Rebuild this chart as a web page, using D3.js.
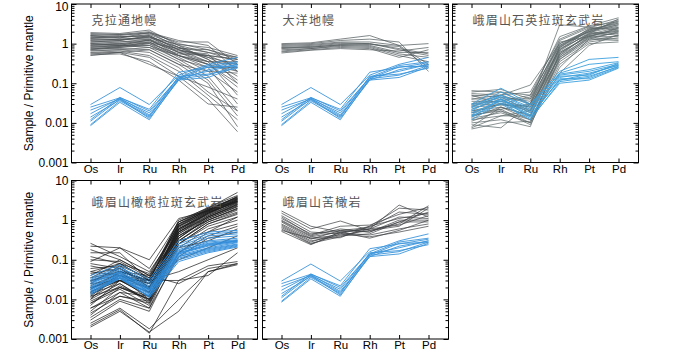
<!DOCTYPE html>
<html>
<head>
<meta charset="utf-8">
<script src="https://d3js.org/d3.v7.min.js"></script>
<style>
  body { margin: 0; background: #fff; }
  text { font-family: Arial, "Liberation Sans", sans-serif; }
</style>
</head>
<body>
<svg id="chart" width="700" height="352"></svg>
<script>
// element order on the x axis
var elements = ["Os", "Ir", "Ru", "Rh", "Pt", "Pd"];
var yTicks = [10, 1, 0.1, 0.01, 0.001];
var titles = ["克拉通地幔", "大洋地幔", "峨眉山石英拉斑玄武岩", "峨眉山橄榄拉斑玄武岩", "峨眉山苦橄岩"];

// blue reference lines (same set in panels 1, 2, 5)
var blueRef = [
  [0.029, 0.078, 0.029, 0.16, 0.30, 0.45],
  [0.025, 0.043, 0.022, 0.19, 0.25, 0.33],
  [0.021, 0.040, 0.018, 0.14, 0.20, 0.30],
  [0.017, 0.042, 0.016, 0.13, 0.16, 0.28],
  [0.014, 0.038, 0.015, 0.12, 0.14, 0.26],
  [0.011, 0.040, 0.013, 0.12, 0.22, 0.30],
  [0.0085, 0.033, 0.012, 0.13, 0.26, 0.27],
  [0.009, 0.036, 0.014, 0.15, 0.17, 0.24],
  [0.012, 0.044, 0.020, 0.14, 0.28, 0.35]
];

// 克拉通地幔
var cratonGrey = [
  [1.9,1.8,2.2,0.9,0.6,0.35],[1.8,1.7,2.0,1.0,0.7,0.4],[1.7,1.6,1.9,0.8,0.45,0.2],
  [1.6,1.7,1.8,1.1,1.1,0.3],[1.5,1.5,1.6,0.7,0.5,0.25],[1.45,1.4,1.7,0.9,0.4,0.12],
  [1.4,1.5,1.5,0.6,0.3,0.08],[1.3,1.3,1.4,0.8,0.6,0.45],[1.25,1.2,1.6,0.7,0.35,0.05],
  [1.2,1.3,1.3,0.5,0.25,0.03],[1.15,1.1,1.2,0.6,0.5,0.4],[1.1,1.2,1.5,0.8,0.4,0.15],
  [1.05,1.0,1.1,0.5,0.3,0.2],[1.0,1.1,1.3,0.7,0.45,0.3],[0.95,0.95,1.0,0.4,0.15,0.02],
  [0.9,1.0,1.2,0.6,0.35,0.35],[0.88,0.9,0.9,0.5,0.3,0.1],[0.85,0.85,1.1,0.45,0.2,0.06],
  [0.8,0.9,0.8,0.35,0.12,0.015],[0.78,0.8,1.0,0.55,0.5,0.4],[0.75,0.75,0.7,0.3,0.1,0.008],
  [0.7,0.8,0.9,0.4,0.25,0.25],[0.68,0.7,0.6,0.25,0.06,0.02],[0.65,0.7,0.8,0.5,0.35,0.3],
  [0.6,0.65,0.5,0.2,0.05,0.012],[0.58,0.6,0.7,0.3,0.2,0.18],[0.55,0.6,0.45,0.15,0.04,0.006],
  [0.52,0.55,0.35,0.12,0.03,0.025],[0.5,0.6,0.3,0.15,0.08,0.04],[1.35,1.25,1.45,0.95,0.8,0.5],
  [1.0,0.9,1.25,0.65,0.55,0.1],[1.6,1.4,1.9,1.2,0.9,0.2],[0.72,0.85,1.05,0.75,0.7,0.45]
];

// 大洋地幔
var oceanGrey = [
  [1.0,1.05,1.3,1.6,0.9,0.3],[0.95,1.0,1.2,1.3,1.1,0.2],[0.9,0.95,1.1,1.1,0.9,1.0],
  [0.85,0.9,1.05,1.0,0.75,0.55],[0.8,0.85,1.0,1.0,0.7,0.5],[0.75,0.8,0.95,0.9,0.6,0.6],
  [0.7,0.75,0.9,0.85,0.55,0.45],[0.65,0.75,0.85,0.8,0.5,0.35],[0.62,0.7,0.8,0.75,0.45,0.7],
  [0.58,0.68,0.75,0.7,0.65,0.8],[0.78,0.82,0.92,0.95,0.85,0.25]
];

// 峨眉山石英拉斑玄武岩
var quartzGrey = [
  [0.065,0.06,0.05,1.5,2.8,4.5],[0.06,0.07,0.04,1.2,2.5,4.0],[0.055,0.05,0.09,1.0,2.2,3.5],
  [0.05,0.045,0.035,0.9,2.0,3.0],[0.045,0.06,0.03,0.8,2.4,2.5],[0.04,0.04,0.04,0.7,1.8,2.0],
  [0.035,0.035,0.025,0.6,1.6,1.8],[0.03,0.05,0.03,1.1,1.5,1.5],[0.028,0.03,0.02,0.5,1.4,1.3],
  [0.025,0.028,0.028,0.45,1.3,1.2],[0.022,0.04,0.018,0.55,1.7,2.2],[0.02,0.025,0.015,0.4,1.2,1.6],
  [0.018,0.03,0.022,0.8,2.0,3.8],[0.016,0.02,0.012,0.35,1.1,1.4],[0.015,0.022,0.03,0.65,1.9,2.8],
  [0.013,0.018,0.01,0.3,1.0,1.1],[0.012,0.015,0.02,0.7,2.2,3.2],[0.011,0.02,0.009,0.25,1.3,2.0],
  [0.01,0.012,0.008,0.6,1.5,2.5],[0.009,0.0075,0.03,3.0,2.6,2.2],[0.008,0.025,0.012,0.18,0.9,1.7],
  [0.0075,0.015,0.015,0.5,1.8,4.2],[0.007,0.01,0.011,0.4,1.4,1.9],[0.03,0.035,0.05,0.9,2.3,3.3],
  [0.02,0.03,0.025,0.75,1.7,2.6],[0.04,0.05,0.06,1.3,2.7,3.6],[0.014,0.025,0.016,0.55,1.6,2.1],
  [0.026,0.045,0.02,0.85,2.1,3.0],[0.018,0.022,0.01,0.45,1.5,2.4],[0.05,0.03,0.045,1.0,2.0,1.6]
];
var quartzBlue = [
  [0.03,0.075,0.03,0.2,0.4,0.45],[0.028,0.05,0.025,0.18,0.3,0.35],[0.025,0.045,0.02,0.16,0.2,0.3],
  [0.022,0.04,0.018,0.14,0.18,0.28],[0.02,0.05,0.022,0.15,0.16,0.32],[0.018,0.035,0.015,0.12,0.15,0.26],
  [0.016,0.04,0.014,0.13,0.13,0.25],[0.015,0.03,0.012,0.11,0.14,0.27],[0.014,0.038,0.016,0.12,0.17,0.29],
  [0.024,0.06,0.028,0.17,0.22,0.33],[0.012,0.032,0.013,0.1,0.12,0.24]
];

// 峨眉山橄榄拉斑玄武岩
var oliveGrey = [
  [0.26,0.12,0.05,0.6,1.5,3.0],[0.22,0.2,0.06,0.9,1.8,3.5],[0.18,0.1,0.04,0.4,1.0,2.0],
  [0.15,0.15,0.03,0.3,0.5,0.8],[0.12,0.08,0.045,0.7,1.6,2.8],[0.1,0.09,0.035,0.5,1.2,2.5],
  [0.09,0.2,0.1,1.1,1.7,4.0],[0.08,0.06,0.025,0.2,0.3,0.6],[0.07,0.05,0.03,0.35,1.1,2.2],
  [0.06,0.07,0.02,0.25,0.8,1.5],[0.05,0.04,0.03,0.8,2.0,5.0],[0.045,0.06,0.02,0.6,1.4,3.2],
  [0.04,0.1,0.04,0.9,1.9,3.0],[0.035,0.05,0.015,0.5,1.3,2.6],[0.03,0.04,0.018,0.4,1.0,2.0],
  [0.028,0.06,0.025,0.7,1.7,3.5],[0.025,0.03,0.012,0.3,0.9,1.8],[0.022,0.045,0.02,0.55,1.5,3.0],
  [0.02,0.035,0.01,0.25,0.7,1.2],[0.018,0.05,0.03,0.8,1.8,3.8],[0.016,0.03,0.012,0.45,1.2,2.4],
  [0.015,0.04,0.025,0.6,1.6,3.3],[0.014,0.025,0.008,0.15,0.4,0.7],[0.013,0.035,0.02,0.5,1.4,2.7],
  [0.012,0.02,0.01,0.35,1.1,2.2],[0.011,0.03,0.015,0.7,1.9,3.6],[0.01,0.025,0.009,0.2,0.6,1.0],
  [0.009,0.02,0.012,0.45,1.3,2.8],[0.008,0.018,0.007,0.3,1.0,1.9],[0.007,0.03,0.02,0.65,1.7,3.1],
  [0.006,0.015,0.006,0.12,0.35,0.5],[0.005,0.02,0.01,0.4,1.2,2.5],[0.0045,0.012,0.008,0.3,0.9,1.6],
  [0.004,0.015,0.012,0.55,1.5,3.4],[0.0035,0.01,0.006,0.25,0.8,1.4],[0.003,0.009,0.005,0.15,0.5,1.2],
  [0.0025,0.006,0.0018,0.01,0.05,0.08],[0.0022,0.0055,0.0014,0.03,0.07,0.09],[0.002,0.005,0.0015,0.005,0.05,0.075],
  [0.03,0.05,0.04,0.025,0.06,0.08],[0.02,0.03,0.03,0.05,0.1,0.2],[0.05,0.08,0.03,0.03,0.04,0.15],
  [0.012,0.04,0.025,0.1,0.2,0.4],[0.025,0.07,0.035,0.9,2.1,4.2],[0.018,0.04,0.018,0.75,1.8,3.9],
  [0.015,0.03,0.015,0.6,1.6,3.0],[0.01,0.05,0.03,1.0,2.0,3.7],[0.008,0.022,0.01,0.5,1.5,2.9],
  [0.006,0.012,0.009,0.35,1.2,2.3],[0.035,0.08,0.03,0.8,1.7,3.3]
];
var oliveBlue = [
  [0.04,0.075,0.032,0.3,0.5,0.55],[0.035,0.065,0.028,0.25,0.45,0.5],[0.032,0.06,0.025,0.22,0.4,0.45],
  [0.03,0.055,0.022,0.2,0.35,0.4],[0.028,0.05,0.02,0.18,0.3,0.35],[0.025,0.048,0.018,0.16,0.28,0.32],
  [0.023,0.045,0.017,0.15,0.25,0.3],[0.021,0.042,0.016,0.14,0.22,0.28],[0.02,0.04,0.015,0.13,0.2,0.27],
  [0.018,0.038,0.014,0.12,0.19,0.25],[0.017,0.036,0.013,0.12,0.18,0.24],[0.016,0.034,0.012,0.11,0.17,0.23],
  [0.015,0.033,0.012,0.1,0.16,0.22],[0.014,0.04,0.011,0.09,0.15,0.21],[0.013,0.035,0.014,0.14,0.24,0.29],
  [0.026,0.05,0.019,0.17,0.26,0.31],[0.019,0.044,0.017,0.15,0.23,0.3]
];

// 峨眉山苦橄岩
var picriteGrey = [
  [1.7,0.7,0.5,0.6,2.4,1.2],[1.5,0.6,0.95,0.55,0.8,2.3],[1.3,0.5,0.45,0.7,2.0,1.8],
  [1.1,0.45,0.55,0.65,1.6,1.4],[1.0,0.4,0.6,0.5,0.9,1.6],[0.95,0.38,0.5,0.6,1.2,1.1],
  [0.9,0.35,0.42,0.55,0.7,2.0],[0.8,0.33,0.55,0.5,1.0,1.0],[0.75,0.3,0.4,0.45,0.9,0.9],
  [0.7,0.28,0.48,0.42,0.6,0.8],[0.65,0.26,0.38,0.6,0.75,1.3],[0.6,0.25,0.45,0.38,0.5,0.7],
  [0.55,0.35,0.36,0.7,1.1,1.5],[0.52,0.24,0.5,0.35,0.55,1.0],[1.2,0.42,0.7,0.75,1.4,2.1]
];

var panels = [
  { title: titles[0], grey: cratonGrey, blue: blueRef, col: 0, row: 0, greyColor: "#4e5456", blueColor: "#3b95db" },
  { title: titles[1], grey: oceanGrey, blue: blueRef, col: 1, row: 0, greyColor: "#50585a", blueColor: "#3b95db" },
  { title: titles[2], grey: quartzGrey, blue: quartzBlue, col: 2, row: 0, greyColor: "#5c6769", blueColor: "#3ca0de" },
  { title: titles[3], grey: oliveGrey, blue: oliveBlue, col: 0, row: 1, greyColor: "#1c1c1c", blueColor: "#2f8cdb" },
  { title: titles[4], grey: picriteGrey, blue: blueRef, col: 1, row: 1, greyColor: "#3f4244", blueColor: "#3b95db" }
];

var colX = [71.5, 262.5, 452.5];
var rowY = [4, 180.5];
var pw = 186, ph = 158.5;

var svg = d3.select("#chart");

var x = d3.scalePoint().domain(elements).range([19, pw - 20]);
var y = d3.scaleLog().domain([0.001, 10]).range([ph, 0]);

// minor ticks 2..9 in each decade
var minor = [];
[0.001, 0.01, 0.1, 1].forEach(function(b) {
  for (var k = 2; k <= 9; k++) minor.push(b * k);
});

var line = d3.line()
  .x(function(d, i) { return x(elements[i]); })
  .y(function(d) { return y(d); });

panels.forEach(function(p) {
  var g = svg.append("g")
    .attr("transform", "translate(" + colX[p.col] + "," + rowY[p.row] + ")");

  g.append("g").selectAll("path")
    .data(p.grey)
    .enter().append("path")
    .attr("d", line)
    .attr("fill", "none")
    .attr("stroke", p.greyColor)
    .attr("stroke-width", 0.8)
    .attr("stroke-opacity", 0.9);

  g.append("g").selectAll("path")
    .data(p.blue)
    .enter().append("path")
    .attr("d", line)
    .attr("fill", "none")
    .attr("stroke", p.blueColor)
    .attr("stroke-width", 0.9);

  // frame
  g.append("rect")
    .attr("width", pw).attr("height", ph)
    .attr("fill", "none").attr("stroke", "#000").attr("stroke-width", 1);

  // y axes, ticks inward on both sides
  var yl = g.append("g").call(
    d3.axisLeft(y).tickValues(yTicks).tickSizeInner(-5).tickSizeOuter(0).tickPadding(3)
      .tickFormat(function(d) { return p.col === 0 ? String(d) : ""; }));
  // keep the top label inside the picture
  yl.selectAll(".tick text").filter(function(d) { return d === 10 && p.row === 0; })
    .attr("dy", "0.5em");
  g.append("g").call(d3.axisLeft(y).tickValues(minor).tickSizeInner(-3).tickSizeOuter(0).tickFormat(""));
  g.append("g").attr("transform", "translate(" + pw + ",0)")
    .call(d3.axisRight(y).tickValues(yTicks).tickSizeInner(-5).tickSizeOuter(0).tickFormat(""));
  g.append("g").attr("transform", "translate(" + pw + ",0)")
    .call(d3.axisRight(y).tickValues(minor).tickSizeInner(-3).tickSizeOuter(0).tickFormat(""));

  // x axes
  g.append("g").attr("class", "xaxis").attr("transform", "translate(0," + ph + ")")
    .call(d3.axisBottom(x).tickSizeInner(-4).tickSizeOuter(0).tickPadding(2));
  g.append("g")
    .call(d3.axisTop(x).tickSizeInner(-4).tickSizeOuter(0).tickFormat(""));

  g.selectAll(".domain").remove();
  g.selectAll(".tick line").attr("stroke", "#000");
  g.selectAll(".tick text").attr("font-size", 12).attr("font-family", "Arial, 'Liberation Sans', sans-serif").attr("fill", "#000");
  g.selectAll(".xaxis .tick text").attr("font-size", 11.5);

  g.append("text")
    .attr("x", 20).attr("y", p.row === 0 ? 21 : 26)
    .attr("font-size", 12)
    .attr("letter-spacing", 1.2)
    .attr("fill", "#555")
    .style("font-family", "'Noto Sans CJK SC', sans-serif")
    .text(p.title);

  if (p.col === 0) {
    svg.append("text")
      .attr("transform", "translate(33," + (rowY[p.row] + ph / 2) + ") rotate(-90)")
      .attr("text-anchor", "middle")
      .attr("font-size", 12)
      .attr("fill", "#000")
      .text("Sample / Primitive mantle");
  }
});
</script>
</body>
</html>
